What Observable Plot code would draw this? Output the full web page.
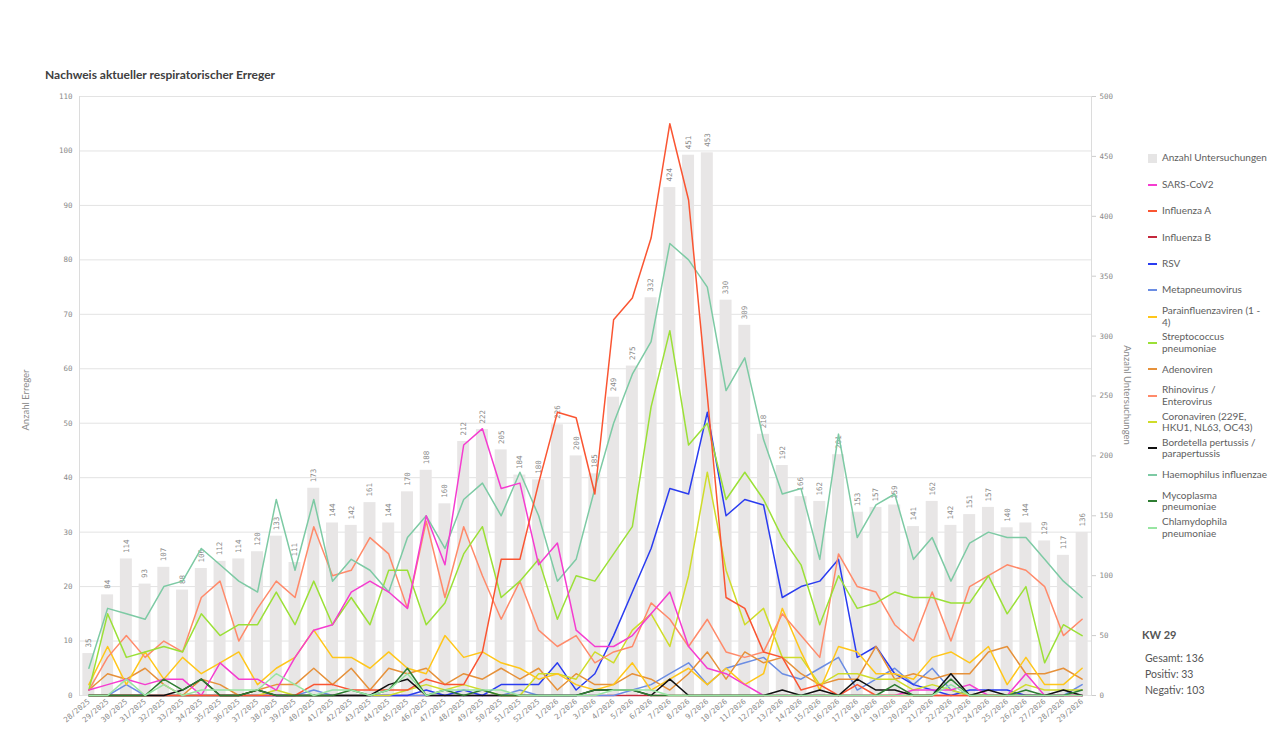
<!DOCTYPE html>
<html>
<head>
<meta charset="utf-8">
<script src="https://cdn.jsdelivr.net/npm/d3@7"></script>
<script src="https://cdn.jsdelivr.net/npm/@observablehq/plot@0.6"></script>
<style>
  html, body { margin: 0; padding: 0; background: #fff; }
  #root { position: relative; width: 1280px; height: 739px; overflow: hidden; font-family: "Lato", "Open Sans", sans-serif; }
  #title { position: absolute; left: 45px; top: 67px; font-size: 12px; font-weight: bold; color: #404040; white-space: nowrap; }
  #chart { position: absolute; left: 0; top: 0; }
  .axtitle { position: absolute; font-size: 9.5px; color: #8a8a8a; white-space: nowrap; }
  #legend { position: absolute; left: 1148px; top: 145px; }
  .li { height: 26.4px; display: flex; align-items: center; }
  .sw { width: 9px; height: 2px; margin-right: 5px; flex: none; }
  .sq { width: 9px; height: 9px; margin-right: 5px; flex: none; background: #e6e5e5; }
  .lt { font-size: 10px; line-height: 11.5px; color: #5e5e5e; white-space: nowrap; }
  #kw { position: absolute; left: 1142px; top: 628px; color: #555; }
  #kw .h { font-weight: bold; font-size: 11px; margin-bottom: 9px; }
  #kw .r { font-size: 10.5px; line-height: 16px; padding-left: 3px; }
</style>
</head>
<body>
<div id="root">
  <div id="title">Nachweis aktueller respiratorischer Erreger</div>
  <div id="chart"></div>
  <div class="axtitle" style="left:25px;top:400px;transform:translate(-50%,-50%) rotate(-90deg);">Anzahl Erreger</div>
  <div class="axtitle" style="left:1127px;top:395px;transform:translate(-50%,-50%) rotate(90deg);">Anzahl Untersuchungen</div>
  <div id="legend"></div>
  <div id="kw">
    <div class="h">KW 29</div>
    <div class="r">Gesamt: 136</div>
    <div class="r">Positiv: 33</div>
    <div class="r">Negativ: 103</div>
  </div>
</div>
<script>
const weeks = ["28/2025","29/2025","30/2025","31/2025","32/2025","33/2025","34/2025","35/2025","36/2025","37/2025","38/2025","39/2025","40/2025","41/2025","42/2025","43/2025","44/2025","45/2025","46/2025","47/2025","48/2025","49/2025","50/2025","51/2025","52/2025","1/2026","2/2026","3/2026","4/2026","5/2026","6/2026","7/2026","8/2026","9/2026","10/2026","11/2026","12/2026","13/2026","14/2026","15/2026","16/2026","17/2026","18/2026","19/2026","20/2026","21/2026","22/2026","23/2026","24/2026","25/2026","26/2026","27/2026","28/2026","29/2026"];

const untersuchungen = [35,84,114,93,107,88,106,112,114,120,133,111,173,144,142,161,144,170,188,160,212,222,205,184,180,226,200,185,249,275,332,424,451,453,330,309,218,192,166,162,201,153,157,159,141,162,142,151,157,140,144,129,117,136];

const sarsCov2 =      [1,2,3,2,3,3,0,6,3,3,1,7,12,13,19,21,19,16,33,24,46,49,38,39,24,28,12,9,9,11,15,19,9,5,4,2,0,0,0,0,0,0,0,0,1,1,1,2,0,0,4,0,0,0];
const influenzaA =    [0,0,0,0,0,0,0,0,0,0,0,0,2,2,1,1,1,1,3,2,2,8,25,25,39,52,51,37,69,73,84,105,91,55,18,16,8,7,1,2,0,2,0,0,0,0,0,0,0,0,0,0,0,0];
const influenzaB =    [0,0,0,0,0,0,0,0,0,0,0,0,0,0,0,0,0,0,0,0,0,0,0,0,0,0,0,0,0,0,0,0,0,0,0,0,0,0,0,0,0,0,0,0,0,0,0,0,0,0,0,0,0,0];
const rsv =           [0,0,0,0,0,0,0,0,0,0,0,0,0,0,0,0,0,0,1,0,1,0,2,2,2,6,1,4,11,19,27,38,37,52,33,36,35,18,20,21,25,7,9,4,2,1,0,1,1,1,0,0,0,0];
const metapneumo =    [0,0,2,0,0,0,0,0,0,0,0,0,1,0,0,0,0,0,0,0,0,0,0,1,0,0,0,0,0,1,2,4,6,2,5,6,7,4,3,5,7,1,3,5,2,5,1,0,0,0,0,0,0,2];
const parainfluenza = [2,9,2,8,3,7,4,6,8,2,5,7,12,7,7,5,8,5,4,11,7,8,6,5,3,4,2,1,2,6,1,3,5,2,5,2,4,16,8,1,9,8,4,4,3,7,8,6,9,2,7,2,2,5];
const streptococcus = [1,15,7,8,9,8,15,11,13,13,19,13,21,13,18,13,23,23,13,17,26,31,18,21,25,14,22,21,26,31,53,67,46,50,36,41,36,29,24,13,22,16,17,19,18,18,17,17,22,15,20,6,13,11];
const adenoviren =    [1,4,3,5,2,0,3,2,0,1,2,2,5,2,5,1,5,4,5,2,4,3,5,3,5,1,4,2,2,4,3,1,4,8,3,8,6,7,4,2,3,3,9,3,4,3,4,4,8,9,4,4,5,3];
const rhinovirus =    [1,7,11,7,10,8,18,21,10,16,21,18,31,22,23,29,26,16,32,18,31,22,14,21,12,9,11,6,8,9,17,14,9,14,8,7,8,15,11,7,26,20,19,13,10,19,10,20,22,24,23,20,11,14];
const coronaviren =   [0,0,0,0,0,0,0,0,0,0,1,0,0,0,0,0,0,1,2,1,2,1,0,0,4,4,3,8,6,12,15,9,22,41,23,13,16,7,7,2,4,4,3,3,1,2,1,0,0,0,2,1,1,1];
const bordetella =    [0,0,0,0,0,1,3,0,0,1,0,0,0,0,0,0,2,3,0,0,0,0,0,0,0,0,0,1,1,1,0,3,0,0,0,0,0,1,0,1,0,3,1,1,0,0,4,0,1,0,0,0,1,0];
const haemophilus =   [5,16,15,14,20,21,27,24,21,19,36,23,36,21,25,23,19,29,33,27,36,39,33,41,33,21,25,38,50,59,65,83,80,75,56,62,47,37,38,25,48,29,35,37,25,29,21,28,30,29,29,25,21,18];
const mycoplasma =    [0,0,0,0,3,1,3,0,0,1,0,0,0,0,1,0,1,5,0,1,0,1,0,0,0,0,0,1,1,1,0,0,0,0,0,0,0,0,0,0,0,0,0,2,0,0,3,0,0,0,1,0,0,1];
const chlamydophila = [0,0,3,0,2,0,1,1,1,1,4,2,0,1,1,0,1,4,0,1,1,1,1,0,0,0,0,0,1,1,1,0,0,0,0,0,0,0,0,0,0,0,0,0,0,0,2,0,0,0,0,0,0,0];

const seriesNames = ["SARS-CoV2","Influenza A","Influenza B","RSV","Metapneumovirus","Parainfluenzaviren (1 -<br>4)","Streptococcus<br>pneumoniae","Adenoviren","Rhinovirus /<br>Enterovirus","Coronaviren (229E,<br>HKU1, NL63, OC43)","Bordetella pertussis /<br>parapertussis","Haemophilus influenzae","Mycoplasma<br>pneumoniae","Chlamydophila<br>pneumoniae"];
const seriesValues = [sarsCov2, influenzaA, influenzaB, rsv, metapneumo, parainfluenza, streptococcus, adenoviren, rhinovirus, coronaviren, bordetella, haemophilus, mycoplasma, chlamydophila];
const seriesColors = ["#f53cd0","#fa5532","#c4283c","#2a3cf0","#6b8de3","#ffc61a","#9be037","#e6913a","#ff8a6a","#cfdc2a","#111111","#7dcaa4","#2e7d32","#98e5a2"];

const leftTicks = d3.range(0, 111, 10);
const rightTicks = d3.range(0, 501, 50);
const k = 110 / 500;

const barData = weeks.map((w, i) => ({week: w, n: untersuchungen[i]}));
const mono = "'DejaVu Sans Mono', monospace";
const tickColor = "#8a8a8a";

// draw order: light green (mostly at zero) on top so the baseline reads light green
const order = [2, 4, 3, 7, 9, 5, 8, 6, 11, 0, 1, 10, 12, 13];
const lineMarks = order.map(j => Plot.line(
  weeks.map((w, i) => ({week: w, v: seriesValues[j][i]})),
  {x: "week", y: "v", stroke: seriesColors[j], strokeWidth: 1.5, strokeLinejoin: "round"}
));

const chart = Plot.plot({
  width: 1140,
  height: 739,
  marginTop: 96,
  marginBottom: 44,
  marginLeft: 79,
  marginRight: 49,
  style: {background: "transparent", overflow: "visible"},
  x: {type: "band", domain: weeks, paddingInner: 0.36, paddingOuter: 0.18, label: null},
  y: {domain: [0, 110], label: null},
  marks: [
    Plot.ruleY(leftTicks, {stroke: "#e3e3e3", strokeWidth: 1}),
    Plot.barY(barData, {x: "week", y: d => d.n * k, fill: "#e8e6e6"}),
    Plot.text(barData, {x: "week", y: d => d.n * k, text: d => String(d.n), rotate: -90, textAnchor: "start", dy: -6, fontSize: 7.5, fontFamily: mono, fill: tickColor}),
    ...lineMarks,
    Plot.frame({anchor: "left", stroke: "#dcdcdc"}),
    Plot.frame({anchor: "right", stroke: "#dcdcdc"}),
    Plot.axisY(leftTicks, {anchor: "left", tickSize: 0, tickPadding: 7, fontSize: 7.5, fontFamily: mono, fill: tickColor, label: null}),
    Plot.axisY(rightTicks, {anchor: "right", y: d => d * k, text: d => String(d), tickSize: 4, tickPadding: 4, stroke: "#cccccc", fontSize: 7.5, fontFamily: mono, fill: tickColor, label: null}),
    Plot.axisX({tickRotate: -40, tickSize: 0, tickPadding: 5, fontSize: 7.5, fontFamily: mono, fill: tickColor, label: null})
  ]
});
document.getElementById("chart").appendChild(chart);

// legend
const legend = document.getElementById("legend");
const first = document.createElement("div");
first.className = "li";
first.innerHTML = `<div class="sq"></div><div class="lt">Anzahl Untersuchungen</div>`;
legend.appendChild(first);
seriesNames.forEach((name, j) => {
  const el = document.createElement("div");
  el.className = "li";
  el.innerHTML = `<div class="sw" style="background:${seriesColors[j]}"></div><div class="lt">${name}</div>`;
  legend.appendChild(el);
});
</script>
</body>
</html>
